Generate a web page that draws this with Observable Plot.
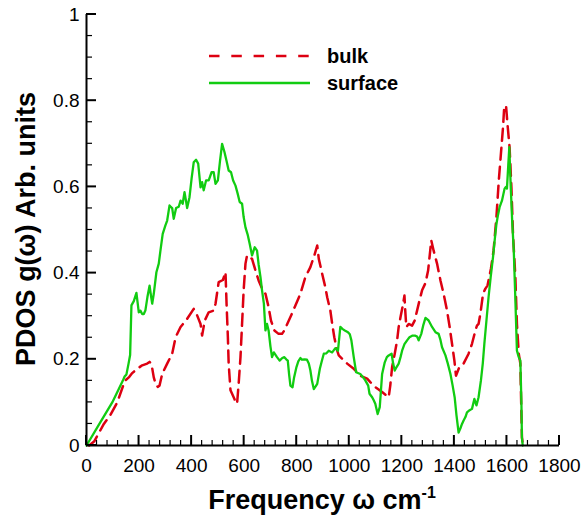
<!DOCTYPE html>
<html><head><meta charset="utf-8">
<script src="https://cdn.jsdelivr.net/npm/d3@7"></script>
<script src="https://cdn.jsdelivr.net/npm/@observablehq/plot@0.6"></script>
<style>body{margin:0;background:#fff}#chart{position:relative;width:581px;height:519px}</style>
</head><body><div id="chart"></div>
<script>
const surfaceFreq = [0,49,98,138,145,152,160,166,171,180,190,199,205,212,218,224,232,240,246,250,256,266,275,282,290,300,307,316,322,326,332,341,351,358,366,373,378,383,392,400,408,417,425,434,440,446,455,465,476,484,491,500,508,516,525,533,541,550,558,567,575,583,592,598,605,613,621,630,640,649,655,662,668,675,681,687,693,700,706,713,725,735,745,753,760,766,771,776,784,790,799,806,814,820,830,839,846,852,858,865,872,878,888,895,903,913,922,935,947,957,966,975,983,995,1002,1008,1017,1026,1042,1053,1061,1072,1077,1087,1093,1099,1108,1116,1125,1135,1143,1150,1161,1167,1173,1180,1188,1195,1201,1210,1220,1229,1241,1250,1258,1264,1274,1282,1290,1302,1308,1315,1328,1340,1347,1353,1366,1375,1385,1393,1401,1408,1416,1423,1429,1435,1442,1448,1458,1467,1476,1484,1492,1501,1508,1514,1522,1530,1538,1547,1554,1560,1566,1572,1581,1591,1596,1600,1605,1609,1612,1615,1620,1626,1632,1638,1645,1651,1655,1657,1660];
const surfaceDos = [0,0.05,0.1,0.15,0.16,0.165,0.19,0.21,0.325,0.335,0.354,0.309,0.313,0.305,0.305,0.313,0.345,0.371,0.345,0.329,0.352,0.402,0.422,0.455,0.491,0.51,0.522,0.557,0.553,0.551,0.526,0.551,0.554,0.568,0.561,0.588,0.57,0.551,0.576,0.62,0.657,0.663,0.654,0.599,0.611,0.592,0.615,0.615,0.634,0.634,0.607,0.615,0.66,0.7,0.681,0.66,0.638,0.634,0.615,0.603,0.585,0.565,0.561,0.53,0.506,0.49,0.468,0.441,0.46,0.452,0.42,0.391,0.36,0.329,0.267,0.282,0.267,0.23,0.205,0.216,0.205,0.197,0.203,0.205,0.2,0.197,0.165,0.139,0.135,0.158,0.182,0.195,0.203,0.199,0.2,0.199,0.19,0.174,0.15,0.131,0.137,0.143,0.178,0.195,0.213,0.214,0.22,0.216,0.226,0.22,0.275,0.27,0.267,0.263,0.258,0.244,0.205,0.17,0.166,0.158,0.151,0.139,0.12,0.112,0.105,0.097,0.073,0.089,0.166,0.193,0.205,0.209,0.213,0.19,0.174,0.182,0.19,0.205,0.22,0.235,0.244,0.251,0.255,0.255,0.253,0.244,0.259,0.28,0.296,0.29,0.283,0.275,0.263,0.259,0.245,0.228,0.209,0.19,0.166,0.14,0.112,0.07,0.03,0.04,0.05,0.058,0.066,0.077,0.082,0.085,0.108,0.093,0.112,0.151,0.19,0.236,0.29,0.344,0.39,0.437,0.48,0.514,0.535,0.553,0.568,0.596,0.6,0.596,0.65,0.692,0.64,0.592,0.52,0.452,0.34,0.22,0.205,0.197,0.1,0.019,0];
const bulkFreq = [10,30,66,90,117,146,161,174,193,212,231,240,247,256,265,272,278,288,307,326,339,358,383,408,421,434,440,450,465,484,491,503,519,529,533,538,541,548,554,563,567,573,579,586,592,598,605,611,621,630,643,655,668,681,693,702,715,731,744,753,776,795,814,833,852,867,878,884,897,909,916,928,935,943,954,960,992,1017,1042,1068,1080,1100,1125,1150,1156,1163,1173,1182,1188,1195,1205,1210,1213,1217,1226,1239,1249,1258,1267,1277,1290,1300,1308,1312,1321,1334,1347,1359,1372,1382,1391,1400,1406,1419,1435,1454,1467,1480,1486,1492,1499,1509,1518,1526,1539,1549,1560,1569,1578,1585,1590,1597,1602,1610,1617,1623,1632,1638,1645,1651,1657,1661];
const bulkDos = [0,0.01,0.05,0.07,0.1,0.15,0.158,0.168,0.178,0.186,0.19,0.194,0.19,0.158,0.139,0.136,0.139,0.166,0.19,0.213,0.251,0.275,0.294,0.317,0.302,0.282,0.255,0.29,0.309,0.313,0.329,0.379,0.384,0.402,0.329,0.251,0.19,0.128,0.12,0.108,0.1,0.097,0.143,0.205,0.282,0.36,0.422,0.441,0.437,0.433,0.406,0.383,0.364,0.352,0.321,0.29,0.267,0.259,0.259,0.267,0.298,0.325,0.352,0.391,0.414,0.441,0.464,0.433,0.398,0.367,0.344,0.313,0.282,0.251,0.22,0.209,0.19,0.178,0.162,0.155,0.147,0.135,0.124,0.112,0.139,0.182,0.213,0.244,0.275,0.298,0.329,0.348,0.313,0.275,0.282,0.278,0.29,0.313,0.336,0.36,0.377,0.406,0.452,0.476,0.452,0.422,0.383,0.352,0.313,0.275,0.236,0.197,0.162,0.182,0.19,0.213,0.236,0.267,0.278,0.282,0.306,0.352,0.364,0.371,0.41,0.452,0.53,0.615,0.684,0.738,0.789,0.785,0.746,0.692,0.599,0.491,0.391,0.282,0.213,0.19,0.019,0];

const xMajorTicks = [0,200,400,600,800,1000,1200,1400,1600,1800];
const xMinorTicks = [40,80,120,160,240,280,320,360,440,480,520,560,640,680,720,760,840,880,920,960,1040,1080,1120,1160,1240,1280,1320,1360,1440,1480,1520,1560,1640,1680,1720,1760];
const yMajorTicks = [0,0.2,0.4,0.6,0.8,1];
const yMinorTicks = [0.05,0.1,0.15,0.25,0.3,0.35,0.45,0.5,0.55,0.65,0.7,0.75,0.85,0.9,0.95];
const seriesNames = ["bulk","surface"];
const seriesColors = ["#dd0011","#11cc11"];
const xTitle = "Frequency ω cm";
const xTitleSup = "-1";
const yTitle = "PDOS g(ω) Arb. units";

const surface = surfaceFreq.map((f,i)=>({freq:f, dos:surfaceDos[i]}));
const bulk = bulkFreq.map((f,i)=>({freq:f, dos:bulkDos[i]}));

const plot = Plot.plot({
  width: 581, height: 519,
  marginLeft: 86, marginRight: 22, marginTop: 14, marginBottom: 74,
  x: {domain: [0,1800]},
  y: {domain: [0,1]},
  style: {fontFamily: "'Liberation Sans', Arial, Helvetica, sans-serif", fontSize: "19px", color: "#000", background: "#fff", overflow: "visible"},
  marks: [
    Plot.line(bulk, {x: "freq", y: "dos", stroke: seriesColors[0], strokeWidth: 2.5, strokeDasharray: "12,7"}),
    Plot.line(surface, {x: "freq", y: "dos", stroke: seriesColors[1], strokeWidth: 2.3}),
    Plot.axisX({ticks: xMajorTicks, tickSize: 0, tickPadding: 13, tickFormat: d => String(d), label: null}),
    Plot.axisY({ticks: yMajorTicks, tickSize: 0, tickPadding: 7, tickFormat: d => String(+d.toFixed(2)), label: null}),
    Plot.ruleX([0], {strokeWidth: 2}),
    Plot.ruleY([0], {strokeWidth: 2})
  ]
});

const svg = d3.select(plot);
const xs = plot.scale("x"), ys = plot.scale("y");
const x0 = xs.apply(0), y0 = ys.apply(0);
const tk = svg.append("g").attr("stroke", "#000");
function xTicks(vals, len, w) {
  tk.selectAll(null).data(vals).join("line")
    .attr("x1", d => xs.apply(d)).attr("x2", d => xs.apply(d))
    .attr("y1", y0).attr("y2", y0 - len).attr("stroke-width", w);
}
function yTicks(vals, len, w) {
  tk.selectAll(null).data(vals).join("line")
    .attr("y1", d => ys.apply(d)).attr("y2", d => ys.apply(d))
    .attr("x1", x0).attr("x2", x0 + len).attr("stroke-width", w);
}
xTicks(xMinorTicks, 5, 1.2);
xTicks(xMajorTicks, 10, 2);
yTicks(yMinorTicks, 6, 1.2);
yTicks(yMajorTicks, 10, 2);

const xt = svg.append("text").attr("x", 322).attr("y", 509).attr("text-anchor", "middle")
  .attr("font-size", 27).attr("font-weight", "bold").attr("fill", "#000");
xt.append("tspan").text(xTitle);
xt.append("tspan").attr("font-size", 16).attr("dy", -11).text(xTitleSup);

svg.append("text").attr("transform", "translate(35,229) rotate(-90)").attr("text-anchor", "middle")
  .attr("font-size", 27).attr("font-weight", "bold").attr("fill", "#000").text(yTitle);

const lg = svg.append("g").attr("text-anchor", "start");
lg.append("line").attr("x1", 209).attr("x2", 310).attr("y1", 56).attr("y2", 56)
  .attr("stroke", seriesColors[0]).attr("stroke-width", 2.5).attr("stroke-dasharray", "10.5,11.8");
lg.append("line").attr("x1", 209).attr("x2", 310).attr("y1", 83).attr("y2", 83)
  .attr("stroke", seriesColors[1]).attr("stroke-width", 2.3);
lg.append("text").attr("x", 327).attr("y", 63).attr("font-size", 20).attr("font-weight", "bold").text(seriesNames[0]);
lg.append("text").attr("x", 327).attr("y", 90).attr("font-size", 20).attr("font-weight", "bold").text(seriesNames[1]);

document.getElementById("chart").appendChild(plot);
</script>
</body></html>
